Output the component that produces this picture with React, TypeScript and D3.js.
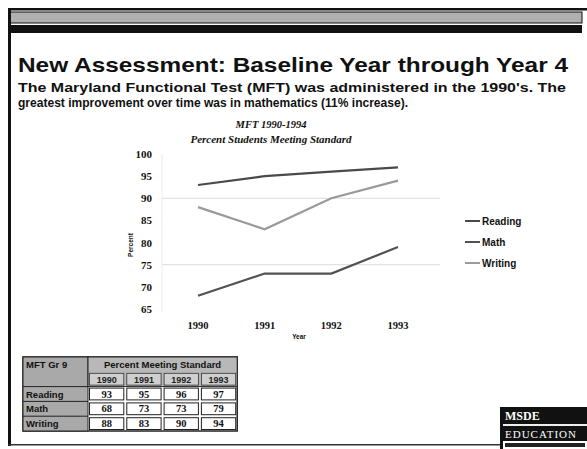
import * as d3 from "d3";

const years = ["1990", "1991", "1992", "1993"];
const reading = [93, 95, 96, 97];
const math = [68, 73, 73, 79];
const writing = [88, 83, 90, 94];
const yTicks = [65, 70, 75, 80, 85, 90, 95, 100];

const series = [
  { name: "Reading", values: reading, color: "#4a4a4a" },
  { name: "Math", values: math, color: "#525252" },
  { name: "Writing", values: writing, color: "#9a9a9a" },
];

const W = 587;
const H = 449;
const sans = "'Liberation Sans', Arial, sans-serif";
const serif = "'Liberation Serif', 'Times New Roman', serif";

export default function App() {
  // plot box
  const x = d3.scalePoint<string>().domain(years).range([198, 398]);
  const y = d3.scaleLinear().domain([65, 100]).range([309, 154]);
  const line = d3
    .line<number>()
    .x((_, i) => x(years[i]) as number)
    .y((d) => y(d));

  // table geometry
  const tx = 23;
  const ty = 357;
  const c0 = 65;
  const cw = 37.3;
  const rh = 14.8;
  const rows = [
    { label: "Reading", values: reading },
    { label: "Math", values: math },
    { label: "Writing", values: writing },
  ];

  return (
    <svg
      width={W}
      height={H}
      style={{ position: "absolute", left: 0, top: 0, background: "#fff" }}
    >
      {/* slide frame */}
      <rect x={8} y={8} width={579} height={2.5} fill="#111" />
      <rect x={10} y={12} width={572} height={11} fill="#b0b0b0" stroke="#111" strokeWidth={1} />
      <rect x={10} y={25} width={572} height={8} fill="#111" />
      <rect x={8} y={8} width={3} height={438} fill="#111" />
      <rect x={8} y={444} width={495} height={1.5} fill="#333" />

      {/* headings */}
      <text x={18} y={72} fontFamily={sans} fontWeight="bold" fontSize={20.5} fill="#111"
        textLength={550} lengthAdjust="spacingAndGlyphs">
        New Assessment:  Baseline Year through Year 4
      </text>
      <text x={18} y={92} fontFamily={sans} fontWeight="bold" fontSize={13} fill="#111"
        textLength={548} lengthAdjust="spacingAndGlyphs">
        The Maryland Functional Test (MFT) was administered in the 1990's. The
      </text>
      <text x={18} y={107} fontFamily={sans} fontWeight="bold" fontSize={13} fill="#111"
        textLength={390} lengthAdjust="spacingAndGlyphs">
        greatest improvement over time was in  mathematics (11% increase).
      </text>

      {/* chart titles */}
      <text x={271} y={128} textAnchor="middle" fontFamily={serif} fontStyle="italic" fontWeight="bold" fontSize={10.5} fill="#111">
        MFT 1990-1994
      </text>
      <text x={271} y={143} textAnchor="middle" fontFamily={serif} fontStyle="italic" fontWeight="bold" fontSize={11} fill="#111">
        Percent Students Meeting Standard
      </text>

      {/* faint grid */}
      {[90, 75].map((t) => (
        <line key={t} x1={162} x2={440} y1={y(t)} y2={y(t)} stroke="#e2e2e2" strokeWidth={1.2} />
      ))}
      <line x1={162} x2={162} y1={154} y2={312} stroke="#ececec" />

      {/* y axis labels */}
      {yTicks.map((t) => (
        <text key={t} x={152} y={y(t) + 4} textAnchor="end" fontFamily={serif} fontWeight="bold" fontSize={11} fill="#111">
          {t}
        </text>
      ))}
      <text transform="translate(133,245) rotate(-90)" textAnchor="middle" fontFamily={sans} fontWeight="bold" fontSize={6.5} fill="#111">
        Percent
      </text>

      {/* x axis labels */}
      {years.map((yr) => (
        <text key={yr} x={x(yr)} y={329} textAnchor="middle" fontFamily={serif} fontWeight="bold" fontSize={10.5} fill="#111">
          {yr}
        </text>
      ))}
      <text x={299} y={339} textAnchor="middle" fontFamily={sans} fontWeight="bold" fontSize={6.5} fill="#111">
        Year
      </text>

      {/* lines */}
      {series.map((s) => (
        <path key={s.name} d={line(s.values) ?? ""} fill="none" stroke={s.color} strokeWidth={2.2} />
      ))}

      {/* legend */}
      {series.map((s, i) => (
        <g key={s.name} transform={`translate(465,${221 + i * 21})`}>
          <line x1={0} x2={15} y1={0} y2={0} stroke={s.color} strokeWidth={2} />
          <text x={17} y={3.5} fontFamily={sans} fontWeight="bold" fontSize={10} fill="#111">
            {s.name}
          </text>
        </g>
      ))}

      {/* data table */}
      <g fontFamily={sans} fontWeight="bold" fill="#111">
        <rect x={tx} y={ty} width={c0 + cw * 4} height={rh * 5} fill="#fff" stroke="#222" strokeWidth={1.5} />
        <rect x={tx} y={ty} width={c0} height={rh * 5} fill="#a9a9a9" stroke="#222" />
        <rect x={tx + c0} y={ty} width={cw * 4} height={rh * 2} fill="#b8b8b8" stroke="#222" />
        <text x={tx + 3} y={ty + 11} fontSize={9.5} fill="#111">MFT Gr 9</text>
        <text x={tx + c0 + cw * 2} y={ty + 11} textAnchor="middle" fontSize={9.5} fill="#111">
          Percent Meeting Standard
        </text>
        {years.map((yr, j) => (
          <g key={yr}>
            <rect x={tx + c0 + cw * j + 1.5} y={ty + rh + 1.5} width={cw - 3} height={rh - 3} fill="#cfcfcf" stroke="#333" strokeWidth={0.8} />
            <text x={tx + c0 + cw * j + cw / 2} y={ty + rh + 11} textAnchor="middle" fontSize={9} fill="#222">
              {yr}
            </text>
          </g>
        ))}
        {rows.map((r, i) => {
          const ry = ty + rh * (i + 2);
          return (
            <g key={r.label}>
              <line x1={tx} x2={tx + c0} y1={ry} y2={ry} stroke="#222" />
              <text x={tx + 3} y={ry + 11} fontSize={9.5} fill="#111">{r.label}</text>
              {r.values.map((v, j) => (
                <g key={j}>
                  <rect x={tx + c0 + cw * j + 1.5} y={ry + 1.5} width={cw - 3} height={rh - 3} fill="#fff" stroke="#222" strokeWidth={1} />
                  <text x={tx + c0 + cw * j + cw / 2} y={ry + 11} textAnchor="middle" fontFamily={serif} fontSize={10.5} fill="#111">
                    {v}
                  </text>
                </g>
              ))}
            </g>
          );
        })}
      </g>

      {/* logo block */}
      <g>
        <rect x={500} y={407} width={87} height={42} fill="#111" />
        <text x={505} y={420} fontFamily={serif} fontWeight="bold" fontSize={12} fill="#fff">MSDE</text>
        <rect x={503} y={424} width={84} height={2} fill="#eee" />
        <text x={505} y={438} fontFamily={serif} fontSize={11} fill="#fff" letterSpacing={1}>EDUCATION</text>
        <rect x={503} y={441} width={84} height={8} fill="#fff" />
        <rect x={505} y={443} width={80} height={4} fill="#222" />
      </g>
    </svg>
  );
}
